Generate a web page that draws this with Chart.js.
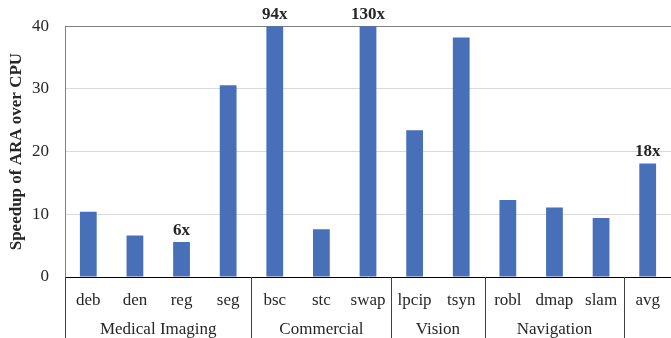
<!DOCTYPE html>
<html><head><meta charset="utf-8">
<script src="https://cdn.jsdelivr.net/npm/chart.js@4"></script>
<style>html,body{margin:0;padding:0;background:#fff}#wrap{width:671px;height:338px}</style>
</head><body><div id="wrap"><canvas id="c"></canvas></div>
<script>
const categories = ["deb","den","reg","seg","bsc","stc","swap","lpcip","tsyn","robl","dmap","slam","avg"];
const speedup = [10.4, 6.6, 5.6, 30.6, 94, 7.6, 130, 23.4, 38.2, 12.3, 11.1, 9.4, 18.1];
const barNotes = ["", "", "6x", "", "94x", "", "130x", "", "", "", "", "", "18x"];
const groupNames = ["Medical Imaging", "Commercial", "Vision", "Navigation", ""];
const groupSizes = [4, 3, 2, 3, 1];
const yTicks = [0, 10, 20, 30, 40];

const serif = "'Liberation Serif', 'Times New Roman', serif";

const groupPlugin = {
  id: 'groups',
  afterDraw(chart) {
    const ctx = chart.ctx;
    const area = chart.chartArea;
    const step = (area.right - area.left) / categories.length;
    ctx.save();
    ctx.font = "bold 17px " + serif;
    ctx.fillStyle = '#262626';
    ctx.textAlign = 'center';
    ctx.textBaseline = 'bottom';
    const meta = chart.getDatasetMeta(0);
    barNotes.forEach((t, i) => {
      if (!t) return;
      const top = Math.max(meta.data[i].y, area.top);
      ctx.fillText(t, meta.data[i].x, top - 3);
    });
    ctx.strokeStyle = '#404040';
    ctx.lineWidth = 1;
    let idx = 0;
    const bottom = chart.height;
    const drawSep = (px) => {
      ctx.beginPath();
      ctx.moveTo(Math.round(px) + 0.5, area.bottom);
      ctx.lineTo(Math.round(px) + 0.5, bottom);
      ctx.stroke();
    };
    drawSep(area.left);
    ctx.font = "17px " + serif;
    ctx.textBaseline = 'middle';
    groupSizes.forEach((n, g) => {
      const start = area.left + idx * step;
      const end = area.left + (idx + n) * step;
      if (groupNames[g]) ctx.fillText(groupNames[g], (start + end) / 2, area.bottom + 53);
      idx += n;
      if (idx < categories.length) drawSep(end);
    });
    ctx.restore();
  }
};

new Chart(document.getElementById('c'), {
  type: 'bar',
  data: {
    labels: categories,
    datasets: [{
      data: speedup,
      backgroundColor: '#4870b9',
      barPercentage: 0.36,
      categoryPercentage: 1.0
    }]
  },
  options: {
    responsive: true,
    maintainAspectRatio: false,
    animation: false,
    layout: { padding: { top: 25, right: 0, left: 6, bottom: 0 } },
    plugins: { legend: { display: false }, tooltip: { enabled: false } },
    scales: {
      x: {
        grid: { display: false },
        border: { color: '#000', width: 1 },
        ticks: { font: { family: serif, size: 17 }, color: '#262626', padding: 5 },
        afterFit(s) { s.height = 61; }
      },
      y: {
        min: 0, max: 40,
        afterBuildTicks(s) { s.ticks = yTicks.map(v => ({ value: v })); },
        ticks: { font: { family: serif, size: 17 }, color: '#262626', padding: 16 },
        grid: {
          drawTicks: false,
          color: ctx => ctx.tick && ctx.tick.value === 40 ? '#7f7f7f' : '#d9d9d9',
          lineWidth: 1
        },
        border: { color: '#7f7f7f', width: 1 },
        title: { display: true, text: 'Speedup of ARA over CPU', font: { family: serif, size: 17, weight: 'bold' }, color: '#262626', padding: 0 },
        afterFit(s) { s.width = 59; }
      }
    }
  },
  plugins: [groupPlugin]
});
</script></body></html>
